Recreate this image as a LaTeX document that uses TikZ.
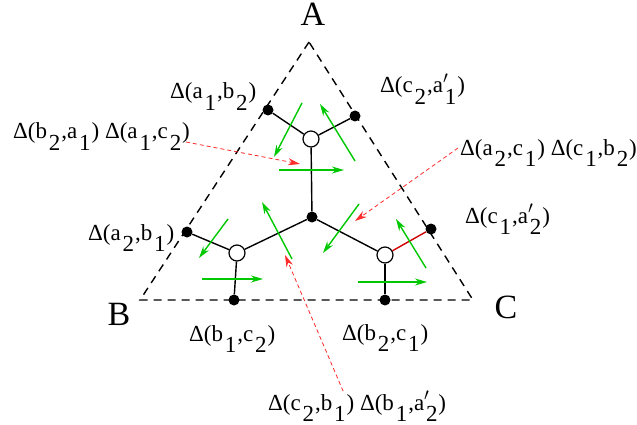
\documentclass[tikz,border=0pt]{standalone}
\usepackage{fontspec}
\setmainfont{Liberation Serif}
\usetikzlibrary{arrows.meta}
\definecolor{flipgreen}{HTML}{00C800}
\definecolor{hintred}{HTML}{FF2A2A}
\definecolor{edgered}{HTML}{D00000}
\newcommand{\lo}[1]{\kern0.08em\raisebox{-0.48em}{#1}\kern0.04em}
\newcommand{\pr}{\rlap{$^{\prime}$}}

\begin{document}
\begin{tikzpicture}[x=1pt,y=-1pt,
    dot/.style={circle,fill=black,inner sep=0pt,minimum size=11pt},
    vert/.style={circle,draw=black,fill=white,line width=1.2pt,inner sep=0pt,minimum size=16pt},
    lbl/.style={inner sep=0pt,anchor=base west,font=\fontsize{23}{26}\selectfont},
    corner/.style={inner sep=0pt,anchor=base,font=\fontsize{34}{40}\selectfont},
    edge/.style={line width=1.4pt},
    flip/.style={flipgreen,line width=1.4pt,-{Stealth[length=12pt,width=7pt]}},
    hint/.style={hintred,line width=0.8pt,dash pattern=on 4pt off 3pt,-{Stealth[length=12pt,width=7pt]}}]
  \useasboundingbox (0,0) rectangle (637,425);

  % the triangle
  \coordinate (A) at (309,42);
  \coordinate (B) at (140,300);
  \coordinate (C) at (473,300);
  \draw[line width=1.4pt,dash pattern=on 8pt off 6pt] (A) -- (B) -- (C) -- cycle;
  \node[corner] (labA) at (313,26) {A};
  \node[corner] (labB) at (119,325) {B};
  \node[corner] (labC) at (506,318) {C};

  % tree
  \node[dot] (ctr) at (312,217) {};
  \node[vert] (vtop) at (311,139) {};
  \node[vert] (vleft) at (237,253) {};
  \node[vert] (vright) at (385,255) {};
  \node[dot] (pTL) at (268,110) {};
  \node[dot] (pTR) at (355,116) {};
  \node[dot] (pL) at (187,232) {};
  \node[dot] (pBL) at (234,300) {};
  \node[dot] (pBR) at (385,300) {};
  \node[dot] (pR) at (431,229) {};
  \draw[edge] (vtop) -- (pTL);
  \draw[edge] (vtop) -- (pTR);
  \draw[edge] (vtop) -- (ctr);
  \draw[edge] (ctr) -- (vleft);
  \draw[edge] (ctr) -- (vright);
  \draw[edge] (vleft) -- (pL);
  \draw[edge] (vleft) -- (pBL);
  \draw[edge] (vright) -- (pBR);
  \draw[edge,edgered] (vright) -- (pR);

  % flips
  \foreach \xa/\ya/\xb/\yb in {302/103/274/157, 355/161/320/104, 279/170/344/170,
      228/219/199/258, 292/259/262/202, 202/279/263/279,
      359/204/323/253, 426/268/396/219, 358/282/427/282}
    \draw[flip] (\xa,\ya) -- (\xb,\yb);

  % labels
  \node[lbl] (lTL) at (170,99) {Δ(a\lo{1},b\lo{2})};
  \node[lbl] (lTR) at (380,93) {Δ(c\lo{2},a\pr\lo{1})};
  \node[lbl] (lHL) at (13,139) {Δ(b\lo{2},a\lo{1}) Δ(a\lo{1},c\lo{2})};
  \node[lbl] (lL) at (88,240) {Δ(a\lo{2},b\lo{1})};
  \node[lbl] (lHR) at (460,155) {Δ(a\lo{2},c\lo{1}) Δ(c\lo{1},b\lo{2})};
  \node[lbl] (lR) at (465,223) {Δ(c\lo{1},a\pr\lo{2})};
  \node[lbl] (lBL) at (189,341) {Δ(b\lo{1},c\lo{2})};
  \node[lbl] (lBR) at (342,340) {Δ(b\lo{2},c\lo{1})};
  \node[lbl] (lHB) at (268,410) {Δ(c\lo{2},b\lo{1}) Δ(b\lo{1},a\pr\lo{2})};

  % hints
  \coordinate (tHL) at (300,164);
  \coordinate (tHR) at (355,221);
  \coordinate (tHB) at (285,255);
  \draw[hint] ([xshift=-4pt,yshift=-3pt]lHL.base east) -- (tHL);
  \draw[hint] ([xshift=-2pt,yshift=7pt]lHR.base west) -- (tHR);
  \draw[hint] ([xshift=-14pt]lHB.north) -- (tHB);
\end{tikzpicture}
\end{document}
